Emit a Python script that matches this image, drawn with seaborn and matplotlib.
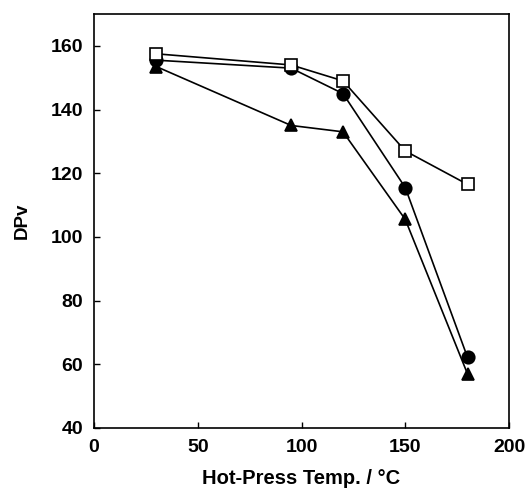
import matplotlib
matplotlib.use("Agg")
import matplotlib.pyplot as plt
import seaborn as sns
import pandas as pd

sns.set_theme(style="ticks")
plt.rcParams['font.family'] = ['Liberation Sans', 'DejaVu Sans']
plt.rcParams['font.weight'] = 'bold'
plt.rcParams['text.color'] = 'black'
plt.rcParams['axes.labelcolor'] = 'black'
plt.rcParams['xtick.color'] = 'black'
plt.rcParams['ytick.color'] = 'black'

temps = [30, 95, 120, 150, 180]
dpv_square = [157.5, 154, 149, 127, 116.5]
dpv_circle = [155.5, 153, 145, 115.5, 62.2]
dpv_triangle = [153.5, 135, 133, 105.5, 57]

series = {"square": dpv_square, "circle": dpv_circle, "triangle": dpv_triangle}
rows = []
for name, vals in series.items():
    for t, v in zip(temps, vals):
        rows.append({"temp": t, "dpv": v, "series": name})
df = pd.DataFrame(rows)

fig = plt.figure(figsize=(5.28, 4.93), dpi=100)
ax = fig.add_axes([94/528, 1 - 428/493, (509-94)/528, (428-14)/493])

styles = {
    "triangle": dict(marker="^", markerfacecolor="black", markersize=9),
    "circle": dict(marker="o", markerfacecolor="black", markersize=9),
    "square": dict(marker="s", markerfacecolor="white", markersize=8.5),
}
for name in ["triangle", "circle", "square"]:
    sub = df[df["series"] == name]
    sns.lineplot(data=sub, x="temp", y="dpv", ax=ax, color="black", linewidth=1.2,
                 markeredgecolor="black", markeredgewidth=1.2, **styles[name])

ax.set_xlim(0, 200)
ax.set_ylim(40, 170)
ax.set_xticks([0, 50, 100, 150, 200])
ax.set_yticks([40, 60, 80, 100, 120, 140, 160])
ax.tick_params(direction="in", length=4, width=1, labelsize=14, colors="black", pad=8)
for lab in ax.get_xticklabels() + ax.get_yticklabels():
    lab.set_fontweight("bold")
    lab.set_color("black")
for sp in ax.spines.values():
    sp.set_visible(True)
    sp.set_linewidth(1.2)
    sp.set_color("black")
ax.set_xlabel("Hot-Press Temp. / °C", fontsize=14.5, fontweight="bold", labelpad=9, color="black")
ax.set_ylabel("DPv", fontsize=13.5, fontweight="bold", labelpad=14, color="black")

fig.savefig("out.png", dpi=100)
